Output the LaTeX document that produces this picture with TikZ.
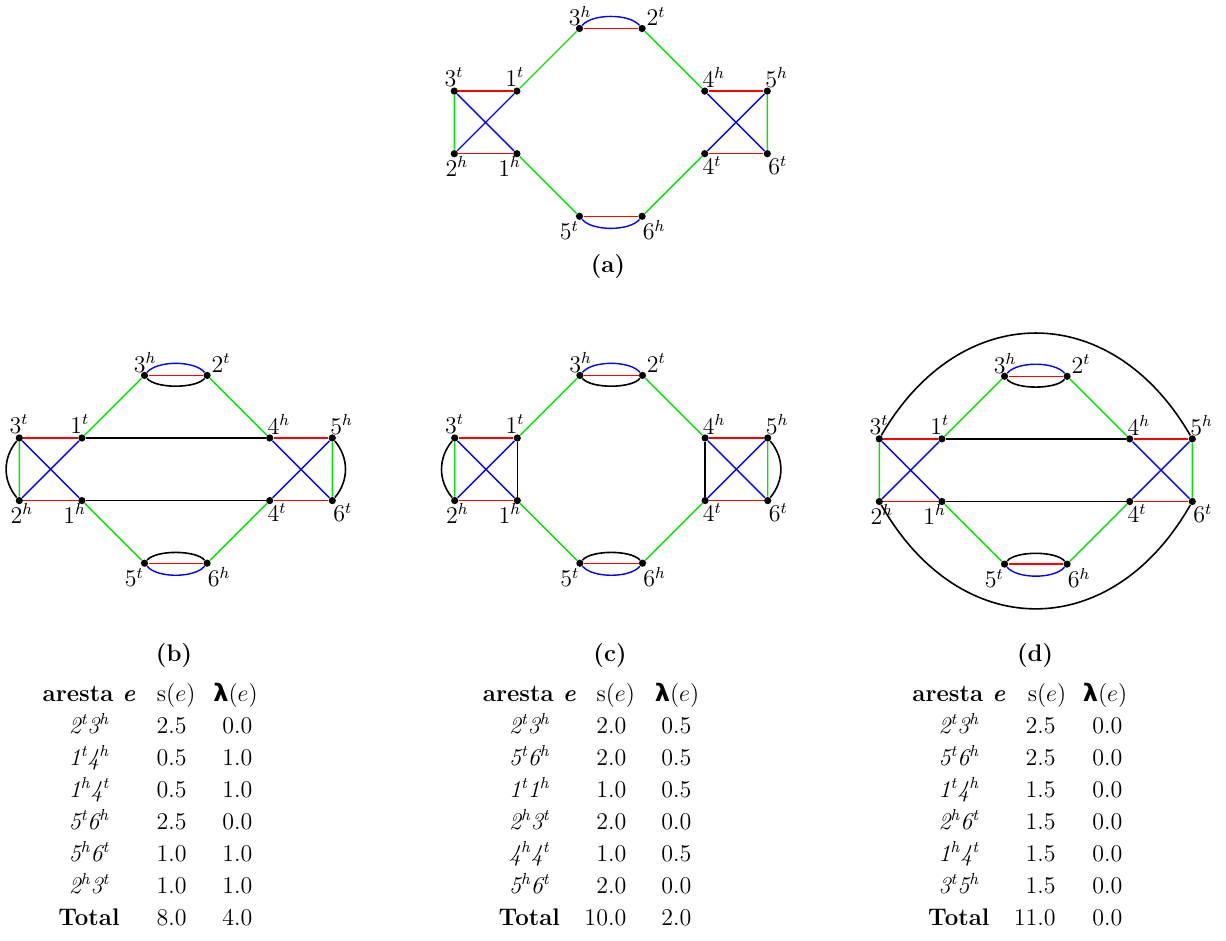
\documentclass[tikz,border=0pt]{standalone}
\usepackage{fontspec}
\newfontfamily\dejavu{DejaVu Sans}
\definecolor{eblue}{RGB}{0,0,255}
\definecolor{ered}{RGB}{255,0,0}
\definecolor{egreen}{RGB}{0,230,0}
\tikzset{
  vdot/.style={circle,fill=black,inner sep=0pt,minimum size=3.6pt},
  vlbl/.style={anchor=base west,inner sep=0pt,font=\fontsize{12}{14}\selectfont},
  redge/.style={draw=ered,line width=0.7pt},
  gedge/.style={draw=egreen,line width=0.7pt},
  bedge/.style={draw=eblue,line width=0.7pt},
  kedge/.style={draw=black,line width=0.8pt},
  cell/.style={inner sep=0pt,font=\fontsize{12}{14}\selectfont},
  capt/.style={anchor=base,inner sep=0pt,font=\fontsize{12}{14}\selectfont\bfseries},
}
\newcommand\ed[4]{\textit{#1\textsuperscript{#2}#3\textsuperscript{#4}}}
\newcommand\mkgraph[3]{%
  \foreach \n/\c/\r/\dx/\dy/\lab in {
    3t/0/1/-10/-4.7/{3^t}, 1t/1/1/-12/-4.7/{1^t}, 2h/0/2/-9/23/{2^h}, 1h/1/2/-19/23/{1^h},
    3h/2/0/-11/-2.7/{3^h}, 2t/3/0/4/-2.7/{2^t}, 4h/4/1/-2.6/-3.4/{4^h}, 5h/5/1/-2.3/-3.4/{5^h},
    4t/4/2/-2.6/21.3/{4^t}, 6t/5/2/0.7/21.3/{6^t}, 5t/2/3/-20/23.7/{5^t}, 6h/3/3/0.4/23.7/{6^h}}{
    \node[vdot] (#1\n) at ({#2+\c*62.6},{-#3-\r*62.6}) {};
    \node[vlbl] (#1L\n) at ({#2+\c*62.6+\dx},{-#3-\r*62.6-\dy}) {$\lab$};
  }%
}
\newcommand\baseedges[1]{%
  \draw[redge] (#13t)--(#11t) (#12h)--(#11h) (#13h)--(#12t) (#15t)--(#16h) (#14h)--(#15h) (#14t)--(#16t);
  \draw[gedge] (#13t)--(#12h) (#11t)--(#13h) (#11h)--(#15t) (#12t)--(#14h) (#16h)--(#14t) (#15h)--(#16t);
  \draw[bedge] (#13t)--(#11h) (#12h)--(#11t) (#14h)--(#16t) (#14t)--(#15h);
  \draw[bedge] (#13h) to[out=50,in=130,looseness=0.7] (#12t);
  \draw[bedge] (#15t) to[out=-50,in=-130,looseness=0.7] (#16h);
}
\newcommand\blackloops[1]{%
  \draw[kedge] (#13h) to[out=-50,in=-130,looseness=0.6] (#12t);
  \draw[kedge] (#15t) to[out=50,in=130,looseness=0.6] (#16h);
}
\newcommand\sidearcs[1]{%
  \draw[kedge] (#13t) to[bend right=40] (#12h);
  \draw[kedge] (#15h) to[bend left=40] (#16t);
}
\begin{document}
\begin{tikzpicture}[x=0.5pt,y=0.5pt]
\useasboundingbox (0,0) rectangle (1226,-941);
% ---------- graphs
\mkgraph{a}{454.3}{28.5}
\mkgraph{b}{19.3}{375.4}
\mkgraph{c}{454.7}{375.4}
\mkgraph{d}{879.3}{376.3}
\baseedges{a}
\baseedges{b}
\baseedges{c}
\baseedges{d}
% (b)
\draw[kedge] (b1t)--(b4h) (b1h)--(b4t);
\blackloops{b}
\sidearcs{b}
% (c)
\draw[kedge] (c1t)--(c1h) (c4h)--(c4t);
\blackloops{c}
\sidearcs{c}
% (d)
\draw[kedge] (d1t)--(d4h) (d1h)--(d4t);
\blackloops{d}
\draw[kedge] (d3t) .. controls +(81,140) and +(-81,140) .. (d5h);
\draw[kedge] (d2h) .. controls +(81,-142) and +(-81,-142) .. (d6t);
% ---------- captions
\node[capt] (capa) at (608,-273) {(a)};
\node[capt] (capb) at (174,-661) {(b)};
\node[capt] (capc) at (610,-661) {(c)};
\node[capt] (capd) at (1035,-661) {(d)};
% ---------- table left
\node[cell,anchor=base] (Lh1) at (89,-701) {\textbf{aresta \textit{e}}};
\node[cell,anchor=base] (Lh2) at (176.2,-701) {s($e$)};
\node[cell,anchor=base] (Lh3) at (235.5,-701) {{\dejavu\bfseries λ}($e$)};
\foreach \k/\e/\s/\l in {1/{\ed{2}{t}{3}{h}}/2.5/0.0, 2/{\ed{1}{t}{4}{h}}/0.5/1.0,
  3/{\ed{1}{h}{4}{t}}/0.5/1.0, 4/{\ed{5}{t}{6}{h}}/2.5/0.0, 5/{\ed{5}{h}{6}{t}}/1.0/1.0,
  6/{\ed{2}{h}{3}{t}}/1.0/1.0, 7/{\textbf{Total}}/8.0/4.0}{
  \node[cell,anchor=base] (Le\k) at (89,{-701-32.1*\k}) {\e};
  \node[cell,anchor=base east] (Ls\k) at (187,{-701-32.1*\k}) {\s};
  \node[cell,anchor=base east] (Ll\k) at (252.7,{-701-32.1*\k}) {\l};
}
% ---------- table middle
\node[cell,anchor=base] (Mh1) at (529.3,-701) {\textbf{aresta \textit{e}}};
\node[cell,anchor=base] (Mh2) at (615.8,-701) {s($e$)};
\node[cell,anchor=base] (Mh3) at (677,-701) {{\dejavu\bfseries λ}($e$)};
\foreach \k/\e/\s/\l in {1/{\ed{2}{t}{3}{h}}/2.0/0.5, 2/{\ed{5}{t}{6}{h}}/2.0/0.5,
  3/{\ed{1}{t}{1}{h}}/1.0/0.5, 4/{\ed{2}{h}{3}{t}}/2.0/0.0, 5/{\ed{4}{h}{4}{t}}/1.0/0.5,
  6/{\ed{5}{h}{6}{t}}/2.0/0.0, 7/{\textbf{Total}}/10.0/2.0}{
  \node[cell,anchor=base] (Me\k) at (529.3,{-701-32.1*\k}) {\e};
  \node[cell,anchor=base east] (Ms\k) at (626.7,{-701-32.1*\k}) {\s};
  \node[cell,anchor=base east] (Ml\k) at (691.7,{-701-32.1*\k}) {\l};
}
% ---------- table right
\node[cell,anchor=base] (Rh1) at (958.8,-701) {\textbf{aresta \textit{e}}};
\node[cell,anchor=base] (Rh2) at (1047,-701) {s($e$)};
\node[cell,anchor=base] (Rh3) at (1105,-701) {{\dejavu\bfseries λ}($e$)};
\foreach \k/\e/\s/\l in {1/{\ed{2}{t}{3}{h}}/2.5/0.0, 2/{\ed{5}{t}{6}{h}}/2.5/0.0,
  3/{\ed{1}{t}{4}{h}}/1.5/0.0, 4/{\ed{2}{h}{6}{t}}/1.5/0.0, 5/{\ed{1}{h}{4}{t}}/1.5/0.0,
  6/{\ed{3}{t}{5}{h}}/1.5/0.0, 7/{\textbf{Total}}/11.0/0.0}{
  \node[cell,anchor=base] (Re\k) at (958.8,{-701-32.1*\k}) {\e};
  \node[cell,anchor=base east] (Rs\k) at (1056,{-701-32.1*\k}) {\s};
  \node[cell,anchor=base east] (Rl\k) at (1122.7,{-701-32.1*\k}) {\l};
}
\end{tikzpicture}
\end{document}
